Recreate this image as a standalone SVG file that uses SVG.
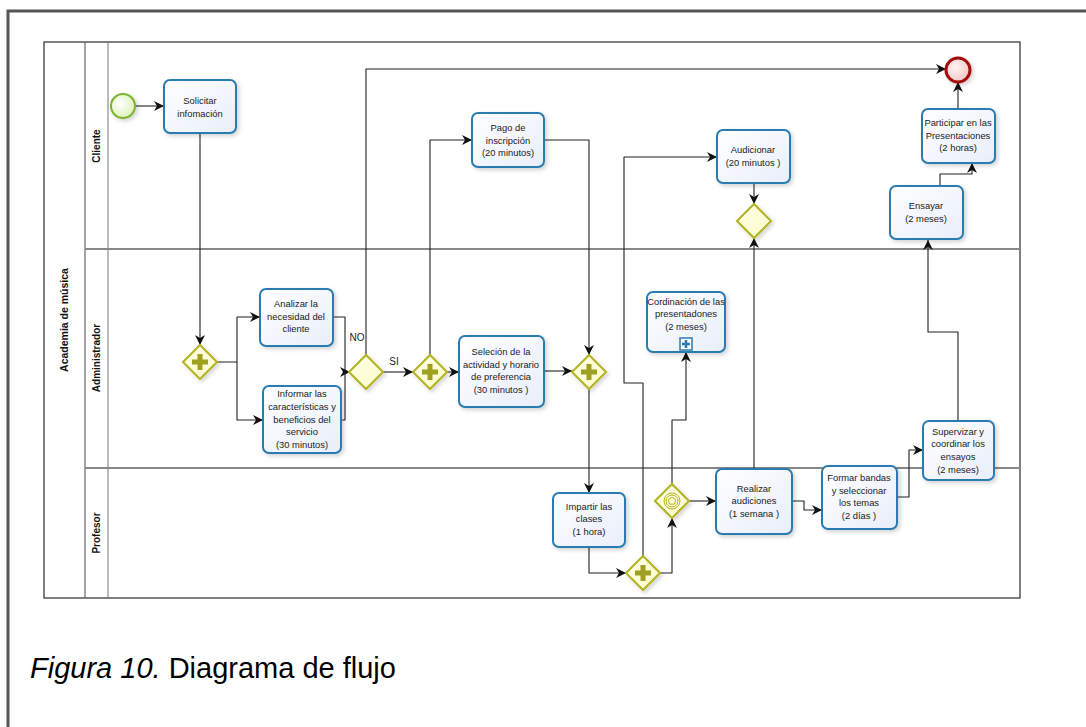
<svg xmlns="http://www.w3.org/2000/svg" width="1086" height="727" viewBox="0 0 1086 727">
<style>
.task{fill:url(#tg);stroke:#2b7bb0;stroke-width:2;filter:url(#sh)}
.t{font-family:"Liberation Sans",Arial,sans-serif;font-size:9.4px;fill:#222;text-anchor:middle}
.lane{font-family:"Liberation Sans",Arial,sans-serif;font-size:10px;font-weight:bold;fill:#111;text-anchor:middle}
.gw{fill:url(#gg);stroke:#b3b324;stroke-width:2;filter:url(#sh)}
.plus{stroke:#a0a020;stroke-width:5;fill:none}
.c{fill:none;stroke:#222;stroke-width:1.1;stroke-linejoin:round}
.ca{fill:none;stroke:#222;stroke-width:1.1;stroke-linejoin:round;marker-end:url(#ar)}
.lbl{font-family:"Liberation Sans",Arial,sans-serif;font-size:10px;fill:#222;text-anchor:middle}
</style>
<defs>
<linearGradient id="tg" x1="0" y1="0" x2="1" y2="1"><stop offset="0" stop-color="#ffffff"/><stop offset="1" stop-color="#e8eefa"/></linearGradient>
<linearGradient id="gg" x1="0" y1="0" x2="1" y2="1"><stop offset="0" stop-color="#ffffe8"/><stop offset="1" stop-color="#fbfbc8"/></linearGradient>
<radialGradient id="sg" cx="0.4" cy="0.4" r="0.7"><stop offset="0" stop-color="#ffffff"/><stop offset="1" stop-color="#d8f0b0"/></radialGradient>
<radialGradient id="eg" cx="0.4" cy="0.4" r="0.7"><stop offset="0" stop-color="#fff4f4"/><stop offset="1" stop-color="#f0c0c0"/></radialGradient>
<filter id="sh" x="-20%" y="-20%" width="150%" height="150%"><feDropShadow dx="2" dy="2" stdDeviation="2" flood-color="#000" flood-opacity="0.18"/></filter>
<marker id="ar" markerUnits="userSpaceOnUse" markerWidth="10" markerHeight="10" refX="10" refY="5" orient="auto"><path d="M0,0 L10,5 L0,10 L3,5 z" fill="#111"/></marker>
</defs>
<rect x="0" y="0" width="1086" height="727" fill="#fff"/>
<path d="M8,727 V11 H1086" fill="none" stroke="#555" stroke-width="3"/>
<g id="pool">
<rect x="44" y="42" width="976" height="556" fill="#fff" stroke="#555" stroke-width="1.5"/>
<line x1="85" y1="42" x2="85" y2="598" stroke="#666" stroke-width="1.2"/>
<line x1="108" y1="42" x2="108" y2="598" stroke="#777" stroke-width="1"/>
<line x1="85" y1="249" x2="1020" y2="249" stroke="#888" stroke-width="2"/>
<line x1="85" y1="468" x2="1020" y2="468" stroke="#888" stroke-width="2"/>
<text class="lane" style="font-size:10.5px" transform="translate(68,320) rotate(-90)">Academia de música</text>
<text class="lane" transform="translate(100,146) rotate(-90)">Cliente</text>
<text class="lane" transform="translate(100,358) rotate(-90)">Administrador</text>
<text class="lane" transform="translate(100,533) rotate(-90)">Profesor</text>
</g>
<g id="connectors">
<path class="ca" d="M135,106 H164"/>
<path class="ca" d="M200,133 V345"/>
<path class="ca" d="M216,362 H237 V317 H260"/>
<path class="ca" d="M237,362 V420 H263"/>
<path class="ca" d="M333,317 H345 V372 H350"/>
<path class="c" d="M341,420 H345 V372"/>
<path class="ca" d="M366,355 V69 H946"/>
<path class="ca" d="M383,372 H413"/>
<path class="ca" d="M430,355 V140 H472"/>
<path class="ca" d="M447,372 H459"/>
<path class="ca" d="M544,140 H589 V355"/>
<path class="ca" d="M544,371 H572"/>
<path class="ca" d="M589,389 V493"/>
<path class="ca" d="M589,547 V573 H626"/>
<path class="ca" d="M643,556 V383 H624 V157 H717"/>
<path class="ca" d="M660,573 H672 V518"/>
<path class="ca" d="M672,484 V420 H686 V352"/>
<path class="ca" d="M689,501 H716"/>
<path class="ca" d="M754,469 V238"/>
<path class="ca" d="M754,183 V204"/>
<path class="ca" d="M792,501 H804 V510 H822"/>
<path class="ca" d="M897,497 H909 V450 H923"/>
<path class="ca" d="M958,421 V332 H928 V240"/>
<path class="ca" d="M940,186 V174 H972 V163"/>
<path class="ca" d="M958,109 V82"/>
<text class="lbl" x="357" y="341">NO</text>
<text class="lbl" x="394" y="365">SI</text>
</g>
<g id="start"><circle cx="123" cy="106" r="12" fill="url(#sg)" stroke="#7ab32e" stroke-width="2" filter="url(#sh)"/></g>
<g id="end"><circle cx="958" cy="70" r="12" fill="url(#eg)" stroke="#a50f0f" stroke-width="3" filter="url(#sh)"/></g>
<g id="solicitar"><rect class="task" x="164" y="80" width="72" height="53" rx="6"/><text class="t" x="200" y="104">Solicitar</text><text class="t" x="200" y="117">infomación</text></g>
<g id="pago"><rect class="task" x="472" y="113" width="72" height="54" rx="6"/><text class="t" x="508" y="131">Pago de</text><text class="t" x="508" y="144">inscripción</text><text class="t" x="508" y="156">(20 minutos)</text></g>
<g id="audicionar"><rect class="task" x="717" y="130" width="73" height="53" rx="6"/><text class="t" x="753" y="153">Audicionar</text><text class="t" x="753" y="166">(20 minutos )</text></g>
<g id="participar"><rect class="task" x="922" y="109" width="73" height="54" rx="6"/><text class="t" x="958" y="126">Participar en las</text><text class="t" x="958" y="139">Presentaciones</text><text class="t" x="958" y="151">(2 horas)</text></g>
<g id="ensayar"><rect class="task" x="890" y="186" width="73" height="53" rx="6"/><text class="t" x="926" y="209">Ensayar</text><text class="t" x="926" y="222">(2 meses)</text></g>
<g id="analizar"><rect class="task" x="260" y="289" width="73" height="57" rx="6"/><text class="t" x="296" y="307">Analizar  la</text><text class="t" x="296" y="320">necesidad del</text><text class="t" x="296" y="332">cliente</text></g>
<g id="informar"><rect class="task" x="263" y="386" width="78" height="67" rx="6"/><text class="t" x="302" y="397">Informar las</text><text class="t" x="302" y="410">características y</text><text class="t" x="302" y="423">beneficios  del</text><text class="t" x="302" y="435">servicio</text><text class="t" x="302" y="448">(30 minutos)</text></g>
<g id="seleccion"><rect class="task" x="459" y="336" width="85" height="71" rx="6"/><text class="t" x="501" y="355">Seleción de la</text><text class="t" x="501" y="368">actividad y horario</text><text class="t" x="501" y="380">de preferencia</text><text class="t" x="501" y="393">(30 minutos )</text></g>
<g id="cordinacion"><rect class="task" x="647" y="292" width="78" height="60" rx="6"/><text class="t" x="686" y="305">Cordinación de las</text><text class="t" x="686" y="317">presentadones</text><text class="t" x="686" y="330">(2 meses)</text><rect x="680" y="338" width="12" height="12" fill="#fff" stroke="#2b7bb0" stroke-width="1.5"/><path d="M686,340 V348 M682,344 H690" stroke="#2b7bb0" stroke-width="2.5"/></g>
<g id="supervizar"><rect class="task" x="923" y="421" width="71" height="59" rx="6"/><text class="t" x="958" y="435">Supervizar y</text><text class="t" x="958" y="447">coordinar los</text><text class="t" x="958" y="460">ensayos</text><text class="t" x="958" y="473">(2 meses)</text></g>
<g id="impartir"><rect class="task" x="553" y="493" width="72" height="54" rx="6"/><text class="t" x="589" y="510">Impartir las</text><text class="t" x="589" y="522">clases</text><text class="t" x="589" y="535">(1 hora)</text></g>
<g id="realizar"><rect class="task" x="716" y="469" width="76" height="65" rx="6"/><text class="t" x="754" y="492">Realizar</text><text class="t" x="754" y="504">audiciones</text><text class="t" x="754" y="517">(1 semana )</text></g>
<g id="formar"><rect class="task" x="822" y="466" width="75" height="63" rx="6"/><text class="t" x="859" y="481">Formar bandas</text><text class="t" x="859" y="494">y seleccionar</text><text class="t" x="859" y="506">los temas</text><text class="t" x="859" y="519">(2 días )</text></g>
<g id="gw1"><path class="gw" d="M200,345 L217,362 L200,379 L183,362 Z"/><path class="plus" d="M200,354 V370 M192,362 H208"/></g>
<g id="gw2"><path class="gw" d="M366,355 L383,372 L366,389 L349,372 Z"/></g>
<g id="gw3"><path class="gw" d="M430,355 L447,372 L430,389 L413,372 Z"/><path class="plus" d="M430,364 V380 M422,372 H438"/></g>
<g id="gw4"><path class="gw" d="M589,355 L606,372 L589,389 L572,372 Z"/><path class="plus" d="M589,364 V380 M581,372 H597"/></g>
<g id="gw5"><path class="gw" d="M643,556 L660,573 L643,590 L626,573 Z"/><path class="plus" d="M643,565 V581 M635,573 H651"/></g>
<g id="gw6"><path class="gw" d="M672,484 L689,501 L672,518 L655,501 Z"/><circle cx="672" cy="501" r="8" fill="none" stroke="#b3b324" stroke-width="1"/><circle cx="672" cy="501" r="6" fill="none" stroke="#b3b324" stroke-width="1"/><path d="M672,497 L675.8,499.8 L674.4,504.2 L669.6,504.2 L668.2,499.8 Z" fill="none" stroke="#b3b324" stroke-width="1"/></g>
<g id="gw7"><path class="gw" d="M754,204 L771,221 L754,238 L737,221 Z"/></g>
<text x="30" y="678" font-family="'Liberation Sans',Arial,sans-serif" font-size="29" fill="#000"><tspan font-style="italic">Figura 10.</tspan> Diagrama de flujo</text>
</svg>
